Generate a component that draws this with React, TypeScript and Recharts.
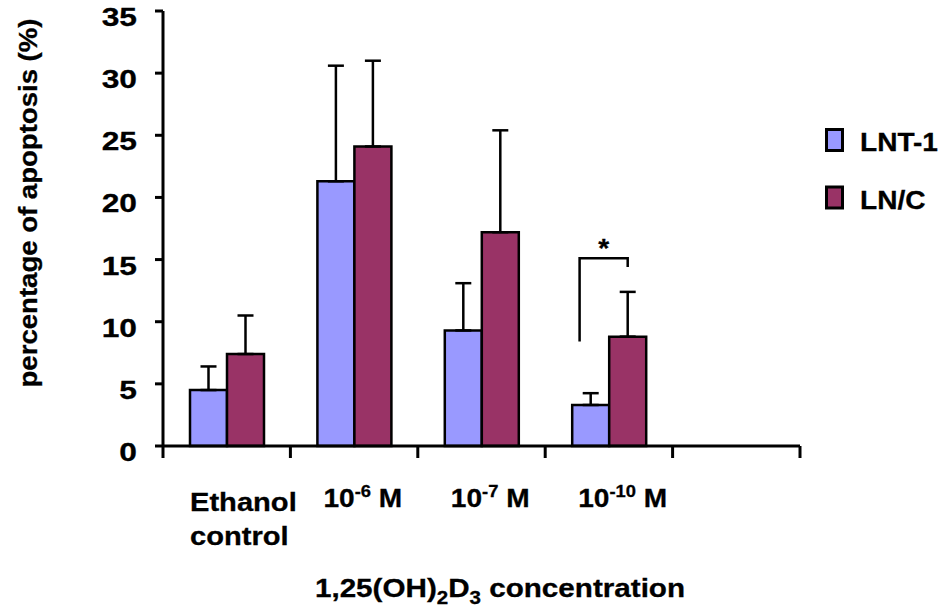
import React from 'react'
import { BarChart, Bar, XAxis, YAxis, ErrorBar, LabelList } from 'recharts'

// treatment groups (last slot is left empty on the axis)
const groups = ['Ethanol control', '10-6 M', '10-7 M', '10-10 M', '']
const exponents = ['', '-6', '-7', '-10', '']

// mean apoptosis (%) and upper SD for each cell line
const lnt1 = [4.5, 21.3, 9.3, 3.3, null]
const lnt1Sd = [1.9, 9.3, 3.8, 0.95, null]
const lnc = [7.4, 24.1, 17.2, 8.8, null]
const lncSd = [3.1, 6.9, 8.2, 3.6, null]

const yTicks = [0, 5, 10, 15, 20, 25, 30, 35]

// significance bracket between LNT-1 and LN/C at 10-10 M
const sigBracket = { index: 3, leftLow: 8.4, top: 15.1, rightLow: 14.4, mark: '*' }

const LNT1_COLOR = '#9999FF'
const LNC_COLOR = '#993366'
const FONT = '"Liberation Sans", Arial, Helvetica, sans-serif'
const STRETCH = 1.08

const CHART_W = 943
const CHART_H = 613
const MARGIN = { top: 11, right: 143, bottom: 0, left: 0 }
const Y_AXIS_W = 163
const X_AXIS_H = 167
const PLOT_W = CHART_W - MARGIN.left - MARGIN.right - Y_AXIS_W

const data = groups.map((group, i) => ({
  group,
  lnt1: lnt1[i],
  lnt1Sd: lnt1Sd[i] == null ? undefined : [0, lnt1Sd[i]],
  lnc: lnc[i],
  lncSd: lncSd[i] == null ? undefined : [0, lncSd[i]],
}))

function WideText({ x, y, anchor = 'start', size = 26, rotate = 0, stretch = STRETCH, children }: any) {
  const rot = rotate ? ` rotate(${rotate})` : ''
  return (
    <text
      transform={`translate(${x},${y})${rot} scale(${stretch},1)`}
      textAnchor={anchor}
      fontFamily={FONT}
      fontWeight="bold"
      fontSize={size}
      fill="#000"
      stroke="#000"
      strokeWidth={0.3}
    >
      {children}
    </text>
  )
}

function ValueTick(props: any) {
  const { x, y, payload } = props
  return (
    <WideText x={x} y={y + 15} anchor="end" stretch={1.22}>
      {payload.value}
    </WideText>
  )
}

function GroupTick(props: any) {
  const { x, y, payload, index } = props
  const half = payload && payload.offset ? payload.offset : PLOT_W / groups.length / 2
  const left = x - half
  const right = x + half
  const tickLine = (px: number) => (
    <line x1={px} x2={px} y1={y} y2={y + 12} stroke="#000" strokeWidth={3} />
  )
  const tx = left + 27
  let label = null
  if (index === 0) {
    label = (
      <>
        <WideText x={tx} y={y + 65} stretch={1.12}>Ethanol</WideText>
        <WideText x={tx} y={y + 99} stretch={1.12}>control</WideText>
      </>
    )
  } else if (exponents[index]) {
    label = (
      <WideText x={tx + 6} y={y + 61}>
        <tspan>10</tspan>
        <tspan dy={-10} fontSize={17}>{exponents[index]}</tspan>
        <tspan dy={10}> M</tspan>
      </WideText>
    )
  }
  return (
    <g>
      {tickLine(left)}
      {index === groups.length - 1 && tickLine(right)}
      {label}
    </g>
  )
}

function BracketLabel(props: any) {
  const { index, value } = props
  if (index !== sigBracket.index || !value) return null
  const x = Number(props.x)
  const y = Number(props.y)
  const width = Number(props.width)
  const height = Number(props.height)
  const base = y + height
  const k = height / Number(value)
  const toY = (v: number) => base - v * k
  const xl = x + width * 0.2
  const xr = x + width * 1.5
  const yTop = toY(sigBracket.top)
  return (
    <g>
      <path
        d={`M${xl},${toY(sigBracket.leftLow)} L${xl},${yTop} L${xr},${yTop} L${xr},${toY(sigBracket.rightLow)}`}
        fill="none"
        stroke="#000"
        strokeWidth={2.5}
      />
      <WideText x={(xl + xr) / 2} y={yTop - 1} anchor="middle">
        {sigBracket.mark}
      </WideText>
    </g>
  )
}

const renderXTitle = () => (
  <WideText x={500} y={597} anchor="middle" stretch={1.14}>
    <tspan>1,25(OH)</tspan>
    <tspan dy={7} fontSize={18}>2</tspan>
    <tspan dy={-7}>D</tspan>
    <tspan dy={7} fontSize={18}>3</tspan>
    <tspan dy={-7}> concentration</tspan>
  </WideText>
)

const renderYTitle = () => (
  <WideText x={37} y={203} anchor="middle" rotate={-90} stretch={1.06}>
    percentage of apoptosis (%)
  </WideText>
)

const legendItems = [
  { name: 'LNT-1', color: LNT1_COLOR },
  { name: 'LN/C', color: LNC_COLOR },
]

function SideLegend() {
  return (
    <svg
      width={120}
      height={110}
      style={{ position: 'absolute', left: 823, top: 126, overflow: 'visible' }}
    >
      {legendItems.map((item, i) => (
        <g key={item.name} transform={`translate(0, ${i * 57.5})`}>
          <rect x={3.5} y={3.5} width={16} height={21} fill={item.color} stroke="#000" strokeWidth={3} />
          <WideText x={37} y={25}>{item.name}</WideText>
        </g>
      ))}
    </svg>
  )
}

export default function App() {
  return (
    <div style={{ position: 'absolute', left: 0, top: 0, width: CHART_W, height: CHART_H, background: '#fff' }}>
      <BarChart
        width={CHART_W}
        height={CHART_H}
        data={data}
        margin={MARGIN}
        barCategoryGap={27}
        barGap={0}
      >
        <XAxis
          dataKey="group"
          type="category"
          height={X_AXIS_H}
          interval={0}
          axisLine={{ stroke: '#000', strokeWidth: 3 }}
          tickLine={false}
          tickSize={0}
          tickMargin={0}
          tick={<GroupTick />}
          label={{ content: renderXTitle } as any}
        />
        <YAxis
          width={Y_AXIS_W}
          domain={[0, 35]}
          ticks={yTicks}
          interval={0}
          axisLine={{ stroke: '#000', strokeWidth: 3 }}
          tickLine={{ stroke: '#000', strokeWidth: 3 }}
          tickSize={8}
          tickMargin={18}
          tick={<ValueTick />}
          label={{ content: renderYTitle } as any}
        />
        <Bar
          dataKey="lnt1"
          name="LNT-1"
          fill={LNT1_COLOR}
          stroke="#000"
          strokeWidth={2.5}
          isAnimationActive={false}
        >
          <ErrorBar dataKey="lnt1Sd" width={8} stroke="#000" strokeWidth={2.5} direction="y" />
          <LabelList dataKey="lnt1" content={<BracketLabel />} />
        </Bar>
        <Bar
          dataKey="lnc"
          name="LN/C"
          fill={LNC_COLOR}
          stroke="#000"
          strokeWidth={2.5}
          isAnimationActive={false}
        >
          <ErrorBar dataKey="lncSd" width={8} stroke="#000" strokeWidth={2.5} direction="y" />
        </Bar>
      </BarChart>
      <SideLegend />
    </div>
  )
}
